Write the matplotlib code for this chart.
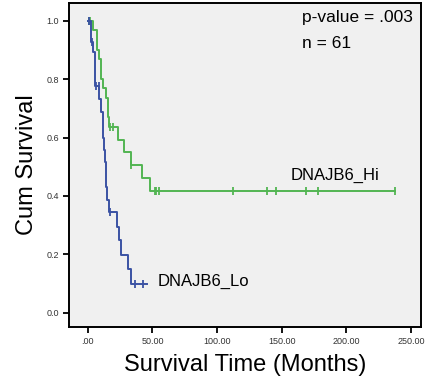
import matplotlib.pyplot as plt
import numpy as np
from matplotlib.ticker import FixedLocator, FixedFormatter

# Kaplan-Meier steps (time in months, cumulative survival after the drop)
hi_times = [0, 3.6, 6.7, 8.8, 10.3, 11.9, 14.0, 15.2, 16.5, 23.5, 27.9, 33.1, 41.9, 48.0]
hi_surv = [1.0, 0.968, 0.90, 0.869, 0.80, 0.769, 0.735, 0.67, 0.636, 0.593, 0.55, 0.507, 0.463, 0.416]
hi_censor = [0.5, 2.0, 17.0, 19.6, 33.5, 52.0, 53.0, 55.0, 112.0, 138.5, 146.0, 169.0, 178.5, 238.0]
hi_end = 238.0

lo_times = [0, 2.3, 4.1, 5.4, 8.8, 10.3, 11.4, 12.0, 12.5, 13.0, 13.7, 14.2, 15.0, 16.5,
            22.5, 24.2, 25.3, 31.3, 33.1]
lo_surv = [1.0, 0.926, 0.892, 0.775, 0.731, 0.687, 0.642, 0.60, 0.556, 0.516, 0.473, 0.43,
           0.386, 0.344, 0.295, 0.25, 0.198, 0.15, 0.097]
lo_censor = [0.5, 3.0, 6.5, 8.5, 17.0, 36.5, 43.0]
lo_end = 45.5

xticks = [0, 50, 100, 150, 200, 250]
xticklabels = ['.00', '50.00', '100.00', '150.00', '200.00', '250.00']
yticks = [0.0, 0.2, 0.4, 0.6, 0.8, 1.0]
yticklabels = ['0.0', '0.2', '0.4', '0.6', '0.8', '1.0']

plt.rcParams['font.family'] = ['Liberation Sans', 'DejaVu Sans']

green = '#52b552'
blue = '#3b52a3'


def step_xy(times, surv, end):
    t = np.array(times + [end], dtype=float)
    s = np.array(surv + [surv[-1]], dtype=float)
    return t, s


def surv_at(times, surv, pts):
    idx = np.searchsorted(np.array(times), np.array(pts), side='right') - 1
    return np.array(surv)[idx]


fig = plt.figure(figsize=(4.28, 3.85), dpi=100)
ax = fig.add_axes([0.161, 0.151, 0.823, 0.841])
ax.set_facecolor('#f0f0f0')

for times, surv, cens, end, col in [(hi_times, hi_surv, hi_censor, hi_end, green),
                                    (lo_times, lo_surv, lo_censor, lo_end, blue)]:
    t, s = step_xy(times, surv, end)
    ax.step(t, s, where='post', color=col, lw=1.4)
    ax.plot(cens, surv_at(times, surv, cens), ls='none', marker='|', ms=6, mew=1.3, color=col)

ax.text(54, 0.107, 'DNAJB6_Lo', fontsize=12, va='center', ha='left')
ax.text(157, 0.47, 'DNAJB6_Hi', fontsize=12, va='center', ha='left')
ax.text(0.662, 0.955, 'p-value = .003', transform=ax.transAxes, fontsize=12.5, va='center')
ax.text(0.662, 0.875, 'n = 61', transform=ax.transAxes, fontsize=12.5, va='center')

ax.set_xlim(-14.7, 258)
ax.set_ylim(-0.048, 1.06)
ax.xaxis.set_major_locator(FixedLocator(xticks))
ax.xaxis.set_major_formatter(FixedFormatter(xticklabels))
ax.yaxis.set_major_locator(FixedLocator(yticks))
ax.yaxis.set_major_formatter(FixedFormatter(yticklabels))
ax.tick_params(axis='both', labelsize=6.5, length=4, width=1.3, pad=3,
               colors='black', labelcolor='#333333')
for sp in ax.spines.values():
    sp.set_linewidth(1.4)

ax.set_xlabel('Survival Time (Months)', fontsize=17, labelpad=6)
ax.set_ylabel('Cum Survival', fontsize=17, labelpad=6)

fig.savefig('out.png', dpi=100)
